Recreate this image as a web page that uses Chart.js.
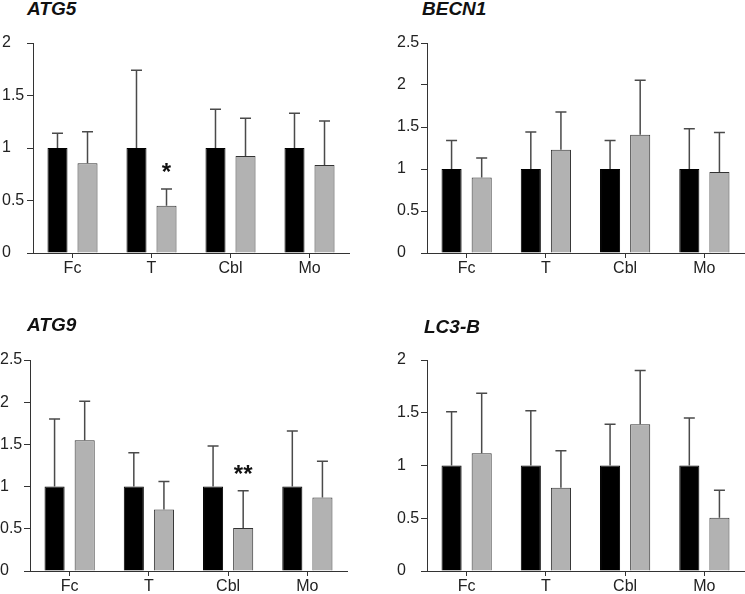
<!DOCTYPE html>
<html>
<head>
<meta charset="utf-8">
<script src="https://cdn.jsdelivr.net/npm/chart.js@4.4.0/dist/chart.umd.min.js"></script>
<style>
  body { margin: 0; background: #fff; }
  #wrap { position: relative; width: 745px; height: 594px; overflow: hidden; }
  canvas { position: absolute; }
  .ttl { position: absolute; font: italic bold 19px Arial, "Liberation Sans", sans-serif; line-height: 19px; color: #111; }
</style>
</head>
<body>
<div id="wrap"></div>
<script>
// data: mean and SD, control (black) vs treated (grey)
const categories = ['Fc', 'T', 'Cbl', 'Mo'];

const atg5Black = [1, 1, 1, 1];
const atg5BlackSd = [0.14, 0.74, 0.37, 0.33];
const atg5Gray = [0.855, 0.45, 0.924, 0.838];
const atg5GraySd = [0.30, 0.16, 0.36, 0.42];
const atg5Sig = ['', '*', '', ''];

const becn1Black = [1, 1, 1, 1];
const becn1BlackSd = [0.34, 0.44, 0.34, 0.48];
const becn1Gray = [0.90, 1.23, 1.408, 0.964];
const becn1GraySd = [0.23, 0.45, 0.65, 0.47];
const becn1Sig = ['', '', '', ''];

const atg9Black = [1, 1, 1, 1];
const atg9BlackSd = [0.80, 0.40, 0.48, 0.66];
const atg9Gray = [1.55, 0.73, 0.51, 0.87];
const atg9GraySd = [0.46, 0.33, 0.44, 0.43];
const atg9Sig = ['', '', '**', ''];

const lc3bBlack = [1, 1, 1, 1];
const lc3bBlackSd = [0.51, 0.52, 0.39, 0.45];
const lc3bGray = [1.115, 0.79, 1.39, 0.505];
const lc3bGraySd = [0.57, 0.35, 0.51, 0.26];
const lc3bSig = ['', '', '', ''];

const yMaxA = 2, yMaxB = 2.5, yMaxC = 2.5, yMaxD = 2;
const yStep = 0.5;

// layout of each panel in page pixels
const panels = [
  { title: 'ATG5', black: atg5Black, blackSd: atg5BlackSd, gray: atg5Gray, graySd: atg5GraySd, sig: atg5Sig, yMax: yMaxA,
    left: 0, top: 30, labelLeft: 2, axisX: 33, yTop: 43, yZero: 253, right: 349, tx: 27, ty: -1 },
  { title: 'BECN1', black: becn1Black, blackSd: becn1BlackSd, gray: becn1Gray, graySd: becn1GraySd, sig: becn1Sig, yMax: yMaxB,
    left: 395, top: 30, labelLeft: 397, axisX: 427, yTop: 43, yZero: 253, right: 744, tx: 422, ty: -1 },
  { title: 'ATG9', black: atg9Black, blackSd: atg9BlackSd, gray: atg9Gray, graySd: atg9GraySd, sig: atg9Sig, yMax: yMaxC,
    left: 0, top: 330, labelLeft: 0, axisX: 30, yTop: 360, yZero: 571, right: 347, tx: 27, ty: 315 },
  { title: 'LC3-B', black: lc3bBlack, blackSd: lc3bBlackSd, gray: lc3bGray, graySd: lc3bGraySd, sig: lc3bSig, yMax: yMaxD,
    left: 395, top: 330, labelLeft: 397, axisX: 427, yTop: 360, yZero: 571, right: 744, tx: 424, ty: 317 }
];

const FONT = 'Arial, "Liberation Sans", sans-serif';
const INK = '#222';
const AXIS = '#333';
const X_H = 26;

// error bars (upper only) + significance stars
const errorBars = {
  id: 'errorBars',
  afterDatasetsDraw(chart) {
    const ctx = chart.ctx;
    const y = chart.scales.y;
    ctx.save();
    chart.data.datasets.forEach((ds, i) => {
      const meta = chart.getDatasetMeta(i);
      meta.data.forEach((bar, j) => {
        const hi = y.getPixelForValue(ds.data[j] + ds.sd[j]);
        ctx.strokeStyle = '#4a4a4a';
        ctx.lineWidth = 1.5;
        ctx.beginPath();
        ctx.moveTo(bar.x, bar.y);
        ctx.lineTo(bar.x, hi);
        ctx.moveTo(bar.x - 5.5, hi);
        ctx.lineTo(bar.x + 5.5, hi);
        ctx.stroke();
        if (ds.sig && ds.sig[j]) {
          ctx.fillStyle = '#111';
          ctx.font = 'bold 24px ' + FONT;
          ctx.textAlign = 'center';
          ctx.textBaseline = 'alphabetic';
          ctx.fillText(ds.sig[j], bar.x, hi - 22 + 13);
        }
      });
    });
    ctx.restore();
  }
};

const wrap = document.getElementById('wrap');

panels.forEach((p) => {
  const w = p.right - p.left + 3;
  const h = p.yZero - p.top + X_H;
  const cv = document.createElement('canvas');
  cv.width = w; cv.height = h;
  cv.style.left = p.left + 'px';
  cv.style.top = p.top + 'px';
  cv.style.width = w + 'px';
  cv.style.height = h + 'px';
  wrap.appendChild(cv);

  const t = document.createElement('div');
  t.className = 'ttl';
  t.style.left = p.tx + 'px';
  t.style.top = p.ty + 'px';
  t.textContent = p.title;
  wrap.appendChild(t);

  new Chart(cv, {
    type: 'bar',
    data: {
      labels: categories,
      datasets: [
        { data: p.black, sd: p.blackSd, backgroundColor: '#000', borderColor: '#000', borderWidth: 1 },
        { data: p.gray, sd: p.graySd, sig: p.sig, backgroundColor: '#b2b2b2', borderColor: '#333', borderWidth: 1 }
      ]
    },
    options: {
      responsive: false,
      animation: false,
      layout: { padding: { left: p.labelLeft - p.left, right: w - (p.right - p.left), top: p.yTop - p.top, bottom: 0 } },
      categoryPercentage: 0.76,
      barPercentage: 0.667,
      plugins: { legend: { display: false }, tooltip: { enabled: false } },
      scales: {
        x: {
          grid: { offset: false, drawOnChartArea: false, tickLength: 5, color: AXIS },
          border: { color: AXIS, width: 1 },
          ticks: { color: INK, font: { family: FONT, size: 16 }, padding: 1, maxRotation: 0 },
          afterFit(s) { s.height = X_H; }
        },
        y: {
          min: 0, max: p.yMax,
          grid: { drawOnChartArea: false, tickLength: 6, color: AXIS },
          border: { color: AXIS, width: 1 },
          ticks: { stepSize: yStep, color: INK, font: { family: FONT, size: 16 }, padding: 2, crossAlign: 'far',
                   callback: (v) => String(v) },
          afterFit(s) { s.width = p.axisX - p.labelLeft; }
        }
      }
    },
    plugins: [errorBars]
  });
});
</script>
</body>
</html>
